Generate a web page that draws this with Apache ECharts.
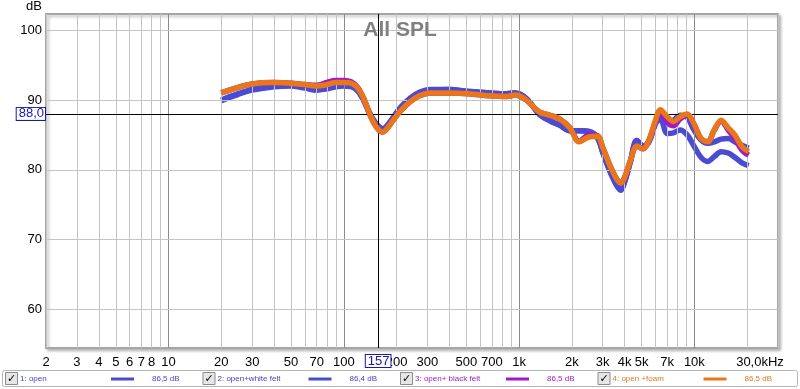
<!DOCTYPE html>
<html><head><meta charset="utf-8">
<script src="https://cdn.jsdelivr.net/npm/echarts@6/dist/echarts.min.js"></script>
<style>html,body{margin:0;padding:0;background:#fff}#c{width:800px;height:389px}</style>
</head><body><div id="c"></div>
<script>
// ---- data ----
const freqs = [20,25,30,40,50,60,70,80,90,100,110,120,130,140,150,160,167,175,190,210,240,270,310,400,520,680,850,950,1100,1300,1500,1700,1950,2200,2500,2800,3000,3300,3600,3800,4000,4300,4700,5100,5500,6000,6400,7000,7600,8300,9100,9900,10900,11900,13000,14200,15600,17000,18700,20400];
const open = [89.9,90.8,91.4,91.9,92.0,91.7,91.4,91.6,91.9,92.0,91.9,91.3,89.9,88.1,86.8,86.0,85.8,86.1,87.3,88.8,90.2,91.0,91.4,91.5,91.2,91.0,90.9,91.0,90.2,88.0,87.0,86.4,85.6,85.6,85.5,84.6,82.5,79.8,77.8,77.1,78.3,81.0,84.2,83.4,84.0,86.6,87.3,85.2,85.3,85.7,85.0,83.5,81.8,81.2,81.9,82.6,82.4,81.8,81.0,80.6];
const whiteFelt = [90.0,90.9,91.5,92.0,92.1,91.8,91.5,91.7,92.0,92.1,92.0,91.4,90.0,88.2,86.9,86.1,85.9,86.2,87.4,88.9,90.3,91.1,91.5,91.5,91.2,91.0,90.9,91.0,90.2,88.0,87.0,86.4,85.6,85.6,85.5,84.6,82.5,79.8,77.8,77.1,78.3,81.0,84.2,83.4,84.0,86.8,88.3,86.8,87.1,87.8,87.5,85.8,84.3,83.8,84.0,84.4,84.5,84.0,83.5,83.1];
const blackFelt = [91.0,91.8,92.3,92.5,92.4,92.2,92.1,92.5,92.8,92.8,92.6,91.8,90.2,88.1,86.5,85.6,85.4,85.8,87.0,88.4,89.8,90.6,91.0,91.0,90.9,90.6,90.5,90.7,90.0,88.3,87.8,87.3,86.0,84.1,85.0,84.9,83.2,80.6,78.7,78.1,78.9,81.2,83.4,83.0,84.2,86.8,88.3,86.8,86.3,87.3,87.8,86.6,84.5,84.0,85.7,87.0,85.7,84.5,82.8,82.1];
const foam = [91.0,91.8,92.3,92.5,92.4,92.2,92.0,92.2,92.5,92.5,92.4,91.7,90.2,88.1,86.5,85.6,85.4,85.8,87.0,88.4,89.8,90.6,91.0,91.0,90.9,90.6,90.5,90.7,90.0,88.3,87.8,87.3,86.0,84.0,84.7,84.8,83.2,80.6,78.7,78.1,78.9,81.2,83.4,83.0,84.2,87.1,88.6,87.6,86.9,87.6,88.0,86.7,84.5,84.0,85.7,87.1,86.0,85.0,83.3,82.6];
const seriesNames = ['1: open','2: open+white felt','3: open+ black felt','4: open +foam'];
const seriesLevels = ['86,5 dB','86,4 dB','86,5 dB','86,5 dB'];
const xGridFreqs = [2,3,4,5,6,7,8,9,10,20,30,40,50,60,70,80,90,100,200,300,400,500,600,700,800,900,1000,2000,3000,4000,5000,6000,7000,8000,9000,10000,20000,30000];
const xMajorFreqs = [10,100,1000,10000];
const xTickFreqs = [2,3,4,5,6,7,8,10,20,30,50,70,100,200,300,500,700,1000,2000,3000,4000,5000,7000,10000,30000];
const xTickLabels = ['2','3','4','5','6','7','8','10','20','30','50','70','100','200','300','500','700','1k','2k','3k','4k','5k','7k','10k','30,0kHz'];
const yTicks = [60,70,80,90,100];
const cursorFreq = 157, cursorFreqLabel = '157';
const cursorDb = 88.0, cursorDbLabel = '88,0';

// ---- styling ----
const colors = ['#4b4bd2','#4b4bd2','#a01ac8','#e8761a'];
const textColors = ['#4444cc','#4444cc','#a020c0','#e07820'];
const FONT = 'Liberation Sans, Arial, sans-serif';

const chart = echarts.init(document.getElementById('c'), null, {renderer:'canvas'});

const gridLineData = xGridFreqs.map(f => {
  const idx = xTickFreqs.indexOf(f);
  const item = {
    xAxis: f,
    lineStyle: {color: xMajorFreqs.includes(f) ? '#8a8a8a' : '#c4c4c4', width: 1, type: 'solid'},
    label: {show: idx >= 0, formatter: idx >= 0 ? xTickLabels[idx] : ''}
  };
  if (f === 30000) item.label.offset = [-18, 0];
  return item;
});
const yLineData = yTicks.map(v => ({yAxis: v, label: {formatter: String(v)}}));

const seriesData = [open, whiteFelt, blackFelt, foam];

const series = [
  {
    type: 'line', name: 'gridx', data: [], z: 1, silent: true,
    markLine: {
      silent: true, symbol: ['none','none'], animation: false,
      label: {position: 'start', distance: 8, color: '#000', fontSize: 13, fontFamily: FONT},
      data: gridLineData
    }
  },
  {
    type: 'line', name: 'gridy', data: [], z: 1, silent: true,
    markLine: {
      silent: true, symbol: ['none','none'], animation: false,
      lineStyle: {color: '#c4c4c4', width: 1, type: 'solid'},
      label: {position: 'start', distance: 4, color: '#000', fontSize: 13, fontFamily: FONT},
      data: yLineData
    }
  }
];
seriesData.forEach((vals, i) => {
  series.push({
    type: 'line', name: seriesNames[i], z: 3 + i,
    data: freqs.map((f, j) => [f, vals[j]]),
    showSymbol: false, smooth: 0.35,
    lineStyle: {color: colors[i], width: 5.5},
    itemStyle: {color: colors[i]}
  });
});
series.push({
  type: 'line', name: 'cursor', data: [], z: 10, silent: true,
  markLine: {
    silent: true, symbol: ['none','none'], animation: false,
    lineStyle: {color: '#000', width: 1, type: 'solid'},
    label: {position: 'start', color: '#1a1aa8', fontSize: 13, fontFamily: FONT,
      backgroundColor: '#fff', borderColor: '#1a1aa8', borderWidth: 1, padding: [0, 1, -1, 2]},
    data: [
      {xAxis: cursorFreq, label: {formatter: cursorFreqLabel, distance: 7}},
      {yAxis: cursorDb, label: {formatter: cursorDbLabel, distance: 1}}
    ]
  }
});

// legend built as graphic
const legendEls = [{
  type: 'rect', shape: {x: 2.5, y: 370.5, width: 795, height: 16, r: 2},
  style: {fill: '#fff', stroke: '#b4b4b4', lineWidth: 1}
}];
const itemX = [4, 201.5, 399, 596.5];
seriesNames.forEach((name, i) => {
  const x0 = itemX[i];
  legendEls.push(
    {type: 'rect', shape: {x: x0 + 1.5, y: 372.5, width: 12, height: 12},
      style: {fill: '#e6e6e6', stroke: '#8c8c8c', lineWidth: 1}},
    {type: 'text', x: x0 + 7.5, y: 379, style: {text: '✓', fill: '#000', font: 'bold 11px DejaVu Sans', align: 'center', verticalAlign: 'middle'}},
    {type: 'text', x: x0 + 16, y: 379, style: {text: name, fill: textColors[i], font: '8px ' + FONT, verticalAlign: 'middle'}},
    {type: 'line', shape: {x1: x0 + 107, y1: 379, x2: x0 + 130, y2: 379}, style: {stroke: colors[i], lineWidth: 3}},
    {type: 'text', x: x0 + 148, y: 379, style: {text: seriesLevels[i], fill: textColors[i], font: '8px ' + FONT, verticalAlign: 'middle'}}
  );
});
legendEls.push({type: 'text', x: 34, y: 6, style: {text: 'dB', fill: '#000', font: '13px ' + FONT, align: 'center', verticalAlign: 'middle'}});

chart.setOption({
  animation: false,
  backgroundColor: '#fff',
  title: {text: 'All SPL', left: 'center', top: 15,
    textStyle: {color: '#808080', fontSize: 21, fontWeight: 'bold', fontFamily: FONT}},
  grid: {left: 46, right: 22, top: 14, bottom: 41, show: true, backgroundColor: '#fff',
    borderColor: '#a6a6a6', borderWidth: 2,
    shadowColor: 'rgba(0,0,0,0.25)', shadowBlur: 3, shadowOffsetX: 2, shadowOffsetY: 2},
  xAxis: {type: 'log', logBase: 10, min: 2, max: 30000,
    axisLine: {show: false}, axisTick: {show: false}, axisLabel: {show: false}, splitLine: {show: false}},
  yAxis: {type: 'value', min: 54.5, max: 102.3,
    axisLine: {show: false}, axisTick: {show: false}, axisLabel: {show: false}, splitLine: {show: false}},
  graphic: legendEls,
  series: series
});
</script>
</body></html>
